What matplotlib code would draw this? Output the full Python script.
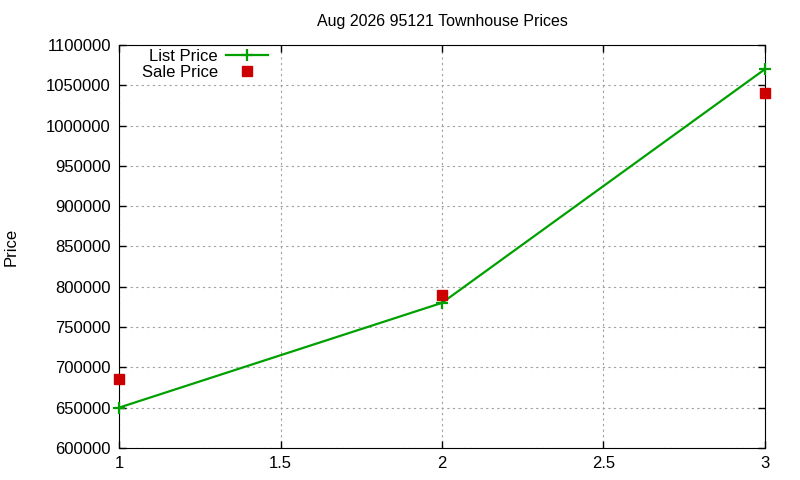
import matplotlib
matplotlib.use("Agg")
import matplotlib.pyplot as plt

# datos
meses = [1, 2, 3]
precio_lista = [650000, 780000, 1070000]
precio_venta = [685000, 790000, 1040000]
yticks = list(range(600000, 1100001, 50000))
xticks = [1, 1.5, 2, 2.5, 3]

plt.rcParams["font.family"] = ["Liberation Sans", "DejaVu Sans"]
plt.rcParams["font.size"] = 12

fig = plt.figure(figsize=(8, 4.8), dpi=100)
ax = fig.add_axes([0.149, 0.067, 0.807, 0.839])

ax.plot(meses, precio_lista, color="#00a000", lw=1.6, marker="+", ms=9, mew=1.6,
        label="List Price", clip_on=False, zorder=3)
ax.plot(meses, precio_venta, ls="none", color="#cc0000", marker="s", ms=6.5,
        label="Sale Price", clip_on=False, zorder=3)

ax.set_xlim(1, 3)
ax.set_ylim(600000, 1100000)
ax.set_xticks(xticks, ["1", "1.5", "2", "2.5", "3"])
ax.set_yticks(yticks, [str(v) for v in yticks])
ax.tick_params(direction="in", top=True, right=True, length=5, width=1, pad=6)
ax.grid(True, color="#a0a0a0", linestyle=(0, (2, 3)), lw=0.8)
ax.set_ylabel("Price", labelpad=20)
ax.set_title("Aug 2026 95121 Townhouse Prices", fontsize=11.5, pad=14)

leg = ax.legend(loc="upper left", bbox_to_anchor=(0.017, 1.02), frameon=False, markerfirst=False,
                handlelength=2.5, handletextpad=0.5, labelspacing=0.05, borderaxespad=0.3)
for t in leg.get_texts():
    t.set_ha("right")

fig.savefig("out.png", dpi=100)
